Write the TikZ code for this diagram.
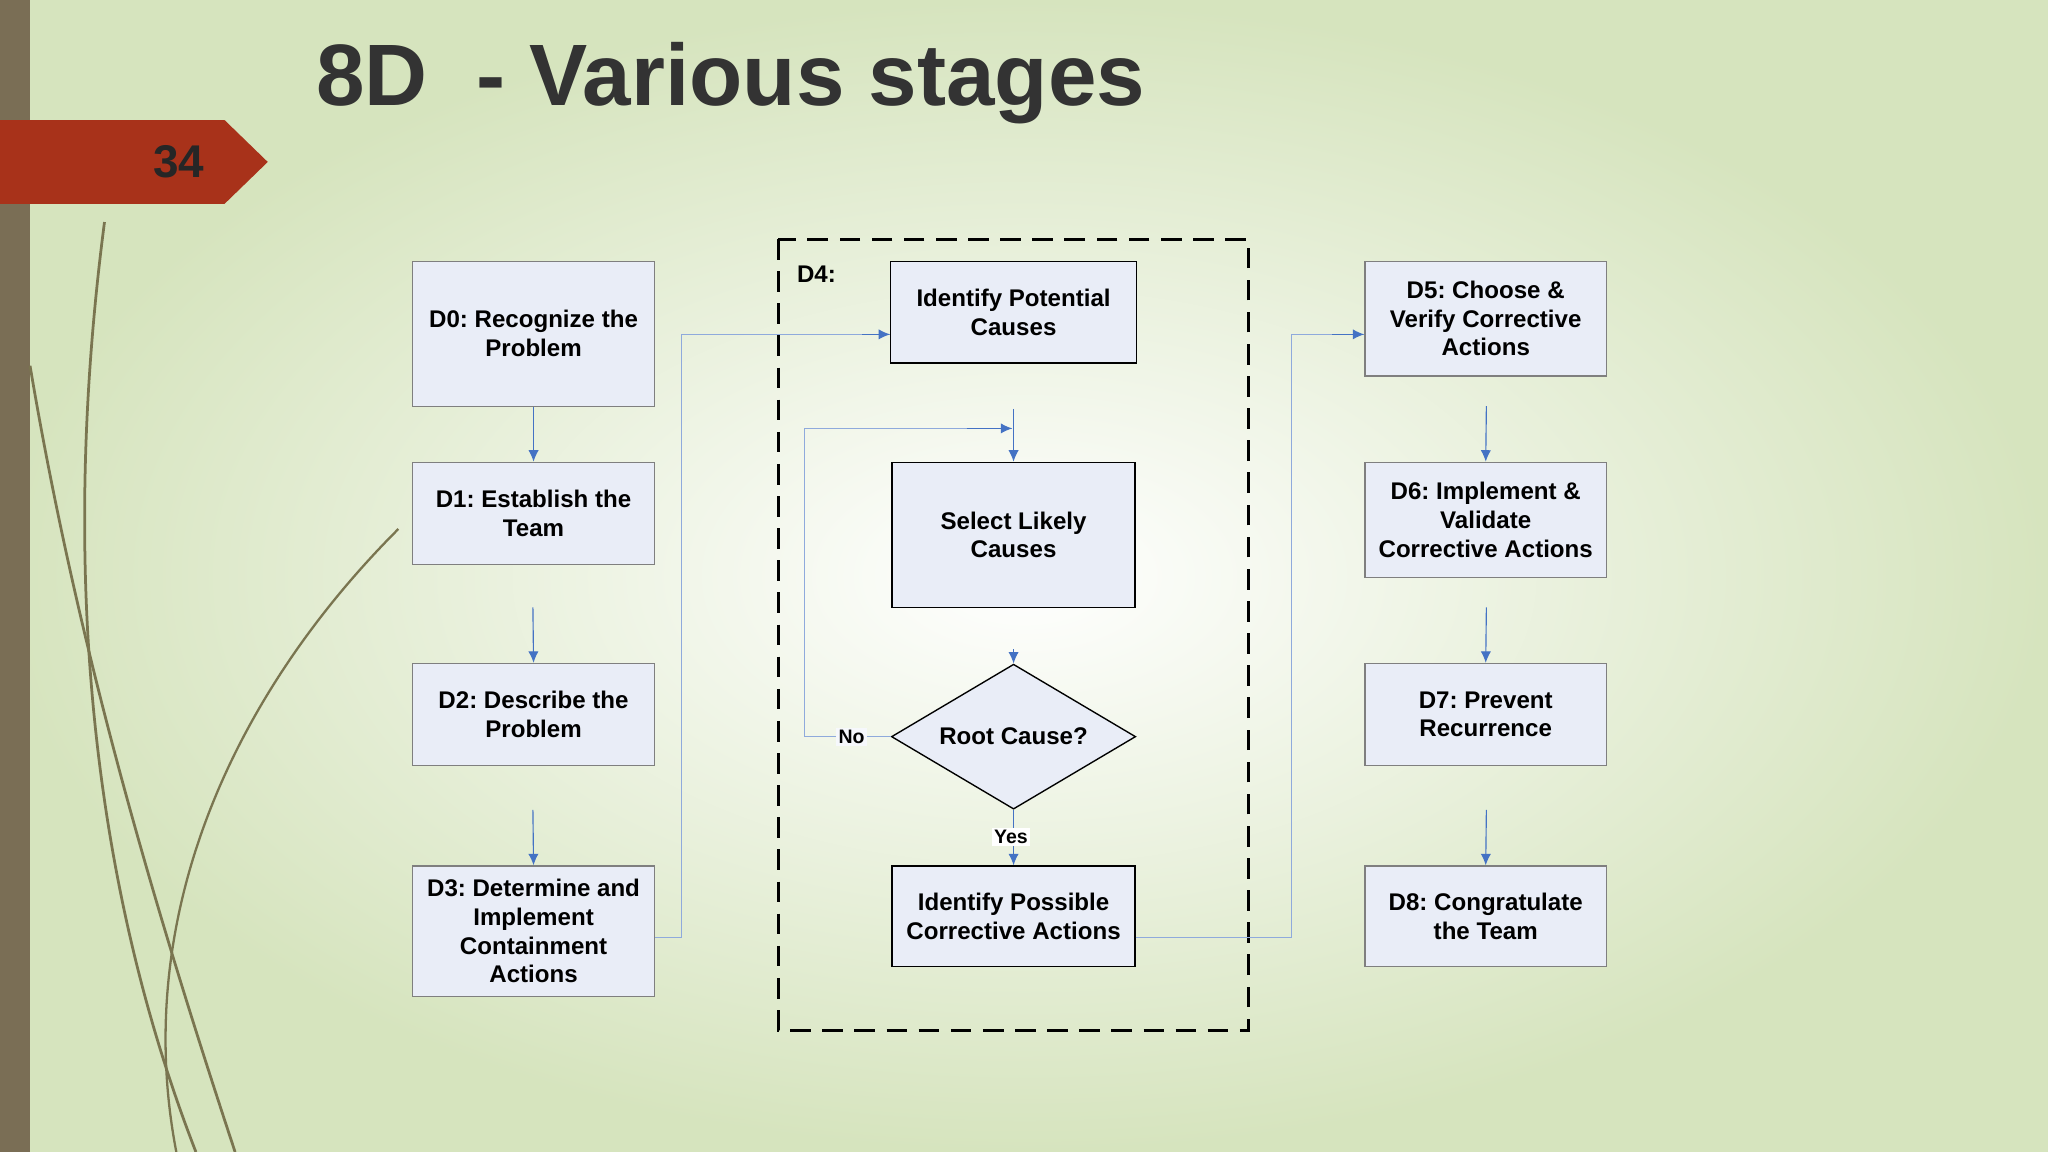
\documentclass[tikz,border=0pt]{standalone}
\usepackage{fontspec}
\setmainfont{Liberation Sans}
\usetikzlibrary{shapes.geometric,arrows.meta}
\definecolor{boxfill}{HTML}{E9EDF7}
\definecolor{boxline}{HTML}{7F7F7F}
\definecolor{arr}{HTML}{4472C4}
\definecolor{strip}{HTML}{7A6E55}
\definecolor{banner}{HTML}{A8321A}
\definecolor{olive}{HTML}{7A7550}
\frenchspacing
\begin{document}
\begin{tikzpicture}[x=0.02cm,y=-0.02cm,
  box/.style={draw=boxline,fill=boxfill,line width=0.6pt,align=center,font=\bfseries\fontsize{10.5}{12.5}\selectfont,inner sep=2pt},
  ar/.style={draw=arr,line width=0.5pt,-{Latex[length=5pt,width=4.5pt]}},
  ln/.style={draw=arr!60,line width=0.5pt}]
\useasboundingbox (0,0) rectangle (1568,882);
\shade[inner color=white,outer color={rgb,255:red,214;green,228;blue,190}] (0,0) rectangle (1568,882);
\fill[strip] (0,0) rectangle (23,882);
% decorative curves
\draw[olive,line width=1.2pt] (80,170) .. controls (50,400) and (60,650) .. (150,882);
\draw[olive,line width=1.2pt] (23,280) .. controls (60,500) and (120,700) .. (180,882);
\draw[olive,line width=1pt] (305,405) .. controls (180,530) and (100,700) .. (135,882);
\fill[banner] (0,92) -- (172,92) -- (205,124) -- (172,156) -- (0,156) -- cycle;
\node[font=\bfseries\fontsize{20}{22}\selectfont,text=black!85] (num) at (137,124) {34};
\node[font=\bfseries\fontsize{38}{42}\selectfont,text=black!80,anchor=west] (title) at (236,64) {8D\ \ - Various stages};
% D4 frame
\draw[dashed,line width=1.3pt,dash pattern=on 9pt off 5pt] (596,183) rectangle (956,789);
\node[font=\bfseries\fontsize{10.5}{12.5}\selectfont,anchor=west] (d4) at (604,210) {D4:};
% left column
\node[box,minimum width=185*0.02cm,minimum height=111*0.02cm] (d0) at (408.5,255.5) {D0: Recognize the\\Problem};
\node[box,minimum width=185*0.02cm,minimum height=78*0.02cm] (d1) at (408.5,393) {D1: Establish the\\Team};
\node[box,minimum width=185*0.02cm,minimum height=78*0.02cm] (d2) at (408.5,547) {D2: Describe the\\Problem};
\node[box,minimum width=185*0.02cm,minimum height=100*0.02cm] (d3) at (408.5,713) {D3: Determine and\\Implement\\Containment\\Actions};
% middle
\node[box,draw=black,minimum width=188*0.02cm,minimum height=78*0.02cm] (ipc) at (776,239) {Identify Potential\\Causes};
\node[box,draw=black,minimum width=186*0.02cm,minimum height=111*0.02cm] (slc) at (776,409.5) {Select Likely\\Causes};
\node[box,draw=black,diamond,shape aspect=1.68,minimum width=187*0.02cm,minimum height=111*0.02cm,inner sep=0pt] (rc) at (776,564) {Root Cause?};
\node[box,draw=black,minimum width=186*0.02cm,minimum height=77*0.02cm] (ipa) at (776,701.5) {Identify Possible\\Corrective Actions};
% right column
\node[box,minimum width=185*0.02cm,minimum height=88*0.02cm] (d5) at (1137.5,244) {D5: Choose \&\\Verify Corrective\\Actions};
\node[box,minimum width=185*0.02cm,minimum height=88*0.02cm] (d6) at (1137.5,398) {D6: Implement \&\\Validate\\Corrective Actions};
\node[box,minimum width=185*0.02cm,minimum height=78*0.02cm] (d7) at (1137.5,547) {D7: Prevent\\Recurrence};
\node[box,minimum width=185*0.02cm,minimum height=77*0.02cm] (d8) at (1137.5,701.5) {D8: Congratulate\\the Team};
% connectors
\coordinate (a1) at (408,465); \coordinate (a2) at (408,620);
\coordinate (b1) at (776,313); \coordinate (b2) at (776,497);
\coordinate (c1) at (1138,311); \coordinate (c2) at (1138,465); \coordinate (c3) at (1138,620);
\draw[ar] (d0) -- (d1);
\draw[ar] (a1) -- (d2.north);
\draw[ar] (a2) -- (d3.north);
\draw[ar] (b1) -- (slc.north);
\draw[ar] (b2) -- (rc.north);
\draw[ar] (c1) -- (d6.north);
\draw[ar] (c2) -- (d7.north);
\draw[ar] (c3) -- (d8.north);
\draw[ln] (d3.east |- 0,718) -- (522,718) -- (522,256) -- (ipc.west |- 0,256);
\draw[ar] (660,256) -- (ipc.west |- 0,256);
\draw[ln] (ipa.east |- 0,718) -- (989,718) -- (989,256) -- (d5.west |- 0,256);
\draw[ar] (1020,256) -- (d5.west |- 0,256);
\draw[ln] (rc.west) -- (616,564) -- (616,328) -- (775,328);
\draw[ar] (740,328) -- (775,328);
\node[fill=white!60!boxfill,inner sep=1pt,font=\bfseries\fontsize{8.5}{10}\selectfont] (no) at (652,564) {No};
\draw[ar] (rc.south) -- (ipa.north);
\node[inner sep=1pt,font=\bfseries\fontsize{8.5}{10}\selectfont,fill=white] (yes) at (774,641) {Yes};
\end{tikzpicture}
\end{document}
